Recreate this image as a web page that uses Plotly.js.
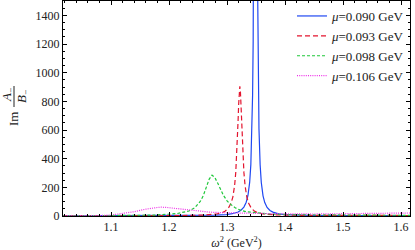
<!DOCTYPE html>
<html>
<head>
<meta charset="utf-8">
<script src="https://cdn.plot.ly/plotly-3.0.1.min.js"></script>
<style>html,body{margin:0;padding:0;background:#fff;}#plot{width:415px;height:250px;}</style>
</head>
<body>
<div id="plot"></div>
<script>
// ---- data ----
const seriesNames = ['<i>μ</i>=0.090 GeV', '<i>μ</i>=0.093 GeV', '<i>μ</i>=0.098 GeV', '<i>μ</i>=0.106 GeV'];

const xBlue = [1.016, 1.05, 1.1, 1.15, 1.2, 1.25, 1.279, 1.299, 1.309, 1.319, 1.324, 1.329, 1.333, 1.336, 1.339, 1.341, 1.343, 1.344, 1.345, 1.346, 1.347, 1.348, 1.349, 1.350, 1.351, 1.352, 1.353, 1.354, 1.355, 1.357, 1.359, 1.362, 1.365, 1.369, 1.374, 1.379, 1.389, 1.399, 1.419, 1.45, 1.5, 1.55, 1.6, 1.616];
const yBlue = [0.3, 0.4, 0.6, 0.9, 1.3, 2.6, 5.5, 10, 16, 28, 40, 62, 96, 143, 236, 360, 610, 842, 1220, 1876, 3048, 4876, 6094, 4875, 3047, 1875, 1219, 841, 609, 358, 234, 141, 94, 60, 39, 27, 15, 10, 5.5, 3.5, 2.5, 2.2, 2, 2];

const xRed = [1.016, 1.1, 1.2, 1.222, 1.262, 1.282, 1.292, 1.297, 1.302, 1.307, 1.310, 1.313, 1.315, 1.317, 1.318, 1.319, 1.320, 1.321, 1.322, 1.323, 1.324, 1.325, 1.326, 1.327, 1.329, 1.331, 1.334, 1.337, 1.342, 1.347, 1.352, 1.362, 1.382, 1.422, 1.5, 1.55, 1.6, 1.616];
const yRed = [0.3, 0.8, 2, 3, 7, 14, 24, 35, 53, 90, 134, 213, 306, 452, 552, 665, 780, 870, 905, 870, 780, 665, 552, 452, 306, 213, 134, 90, 53, 35, 24, 14, 8, 5, 4, 3.5, 3.5, 3.5];

const xGreen = [1.016, 1.05, 1.1, 1.15, 1.174, 1.214, 1.234, 1.244, 1.254, 1.259, 1.264, 1.269, 1.274, 1.279, 1.284, 1.289, 1.294, 1.300, 1.304, 1.314, 1.324, 1.334, 1.354, 1.374, 1.404, 1.45, 1.5, 1.55, 1.6, 1.616];
const yGreen = [0.5, 0.8, 1.5, 3, 6, 17, 35, 57, 103, 142, 197, 256, 285, 268, 228, 182, 142, 106, 88, 57, 39, 29, 19, 14, 10, 7, 6, 5.5, 5, 5];

const xMagenta = [1.016, 1.05, 1.08, 1.1, 1.12, 1.14, 1.16, 1.175, 1.185, 1.195, 1.21, 1.23, 1.25, 1.27, 1.3, 1.33, 1.36, 1.4, 1.45, 1.5, 1.55, 1.6, 1.616];
const yMagenta = [0.5, 1, 3, 7, 16, 30, 48, 58, 62, 60, 53, 42, 33, 27, 22, 19, 17, 15, 14, 15, 17, 20, 21];

const xRange = [1.017, 1.6155];
const yRange = [0, 1500];

// ---- styling ----
const FONT = 'Liberation Serif, Times New Roman, serif';
const traces = [
  {x: xBlue, y: yBlue, name: seriesNames[0], line: {color: '#1f48f2', width: 1.2, dash: 'solid'}},
  {x: xRed, y: yRed, name: seriesNames[1], line: {color: '#e3142e', width: 1.2, dash: '5px,3px'}},
  {x: xGreen, y: yGreen, name: seriesNames[2], line: {color: '#1fc83a', width: 1.2, dash: '3px,2px'}},
  {x: xMagenta, y: yMagenta, name: seriesNames[3], line: {color: '#ee2ee8', width: 1.2, dash: '1px,1.2px'}}
].map(t => Object.assign({type: 'scatter', mode: 'lines', xaxis: 'x', yaxis: 'y'}, t));

const L = 63, R = 410, T = 1, B = 216, W = 415, H = 250;
const px = v => (v - L) / (R - L);
const py = v => (B - v) / (B - T);

const baseAx = {
  showgrid: false, zeroline: false, showline: true, linecolor: '#000', linewidth: 1,
  ticks: 'inside', tickcolor: '#000', tickwidth: 1,
  tickfont: {family: FONT, size: 12, color: '#222'}
};
const xMinor = {dtick: 0.02, tick0: 1, ticks: 'inside', ticklen: 2, tickcolor: '#000'};
const yMinor = {dtick: 50, tick0: 0, ticks: 'inside', ticklen: 2, tickcolor: '#000'};

const layout = {
  width: W, height: H,
  margin: {l: L, r: W - R, t: T, b: H - B, pad: 0},
  paper_bgcolor: '#fff', plot_bgcolor: '#fff',
  showlegend: true,
  legend: {x: px(292), y: 1, xanchor: 'left', yanchor: 'top', bgcolor: 'rgba(255,255,255,0)',
           font: {family: FONT, size: 13, color: '#222'}, itemwidth: 30, tracegroupgap: 0},
  xaxis: Object.assign({}, baseAx, {
    range: xRange, tick0: 1, dtick: 0.1, ticklen: 4, mirror: true, minor: xMinor,
    title: {text: '<i>ω</i><sup>2</sup> (GeV<sup>2</sup>)', font: {family: FONT, size: 12, color: '#222'}, standoff: 6}
  }),
  xaxis2: Object.assign({}, baseAx, {
    range: xRange, overlaying: 'x', side: 'top', anchor: 'y', showticklabels: false,
    tick0: 1, dtick: 0.1, ticklen: 4, minor: xMinor
  }),
  yaxis: Object.assign({}, baseAx, {
    range: yRange, tick0: 0, dtick: 200, ticklen: 4, mirror: true, minor: yMinor
  }),
  yaxis2: Object.assign({}, baseAx, {
    range: yRange, overlaying: 'y', side: 'right', anchor: 'x', showticklabels: false,
    tick0: 0, dtick: 200, ticklen: 4, minor: yMinor
  }),
  annotations: [
    {xref: 'paper', yref: 'paper', x: px(13), y: py(119), text: 'Im', textangle: -90, showarrow: false,
     xanchor: 'center', yanchor: 'middle', font: {family: FONT, size: 13, color: '#222'}},
    {xref: 'paper', yref: 'paper', x: px(7), y: py(95), text: '<i>A</i><sub>−</sub>', textangle: -90, showarrow: false,
     xanchor: 'center', yanchor: 'middle', font: {family: FONT, size: 13, color: '#222'}},
    {xref: 'paper', yref: 'paper', x: px(22), y: py(97), text: '<i>B</i><sub>−</sub>', textangle: -90, showarrow: false,
     xanchor: 'center', yanchor: 'middle', font: {family: FONT, size: 13, color: '#222'}}
  ],
  shapes: [
    {type: 'line', xref: 'paper', yref: 'paper', x0: px(14), x1: px(14), y0: py(86), y1: py(107),
     line: {color: '#222', width: 1}}
  ]
};

// empty traces so the mirrored overlay axes are drawn
traces.push({type: 'scatter', x: [], y: [], xaxis: 'x2', yaxis: 'y', showlegend: false, hoverinfo: 'skip'});
traces.push({type: 'scatter', x: [], y: [], xaxis: 'x', yaxis: 'y2', showlegend: false, hoverinfo: 'skip'});

Plotly.newPlot('plot', traces, layout, {staticPlot: true, displayModeBar: false});
</script>
</body>
</html>
